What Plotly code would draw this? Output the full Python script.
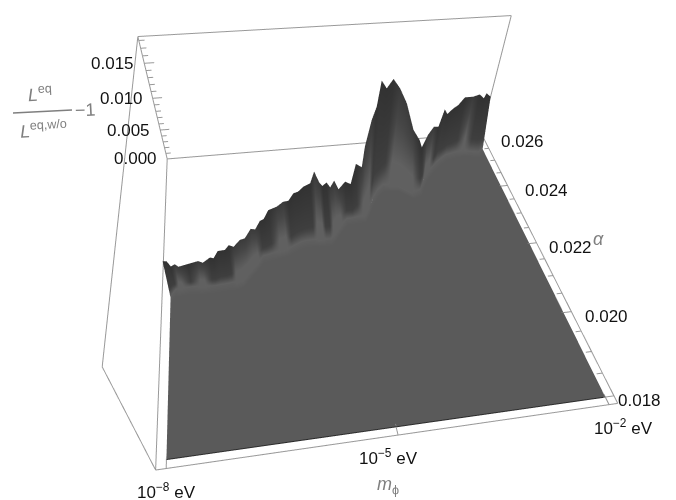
import plotly.graph_objects as go

# values
log_m = [-8.00,-7.95,-7.92,-7.86,-7.82,-7.68,-7.53,-7.47,-7.35,-7.30,-7.22,-7.11,-7.04,-6.97,-6.86,-6.78,-6.67,-6.60,-6.51,-6.45,-6.36,-6.22,-6.11,-6.02,-5.93,-5.85,-5.76,-5.64,-5.57,-5.48,-5.42,-5.35,-5.28,-5.21,-5.12,-5.00,-4.89,-4.81,-4.69,-4.66,-4.57,-4.50,-4.45,-4.32,-4.19,-4.07,-3.92,-3.70,-3.53,-3.45,-3.36,-3.25,-3.13,-3.03,-2.93,-2.79,-2.70,-2.59,-2.42,-2.30,-2.17,-2.13,-2.00]
alpha_edge = [.02180,.02184,.02189,.02193,.02195,.02205,.02214,.02217,.02225,.02228,.02233,.02241,.02245,.02249,.02257,.02262,.02269,.02273,.02279,.02283,.02289,.02298,.02305,.02311,.02317,.02323,.02328,.02336,.02341,.02347,.02351,.02355,.02359,.02364,.02370,.02378,.02385,.02391,.02399,.02401,.02407,.02411,.02415,.02434,.02451,.02448,.02450,.02465,.02476,.02481,.02487,.02495,.02507,.02521,.02533,.02547,.02550,.02554,.02558,.02559,.02568,.02571,.02580]
alpha_foot = [.02156,.02169,.02176,.02176,.02177,.02178,.02176,.02175,.02174,.02174,.02175,.02176,.02177,.02177,.02182,.02197,.02216,.02228,.02245,.02246,.02249,.02254,.02257,.02263,.02269,.02275,.02277,.02277,.02276,.02275,.02275,.02274,.02286,.02300,.02317,.02335,.02336,.02337,.02339,.02342,.02364,.02383,.02395,.02422,.02439,.02436,.02433,.02403,.02411,.02433,.02458,.02478,.02495,.02509,.02521,.02535,.02538,.02542,.02546,.02540,.02536,.02534,.02549]
ridge = [.00493,.00460,.00335,.00344,.00281,.00251,.00228,.00171,.00202,.00163,.00252,.00212,.00264,.00204,.00266,.00255,.00368,.00329,.00434,.00433,.00544,.00540,.00574,.00552,.00636,.00625,.00672,.00677,.00833,.00622,.00542,.00574,.00466,.00548,.00366,.00446,.00361,.00662,.00562,.00880,.01246,.01412,.01744,.01568,.01627,.01504,.01278,.00805,.00584,.00433,.00607,.00703,.00648,.00865,.00738,.00767,.00803,.00903,.00889,.00913,.00811,.00879,.00783]
light_facet = [0,0,0,1,1,0,1,1,0,0,0,0,0,1,1,1,1,1,0,0,0,1,1,0,0,0,0,0,1,1,0,0,1,1,1,0,0,0,1,1,1,0,0,0,0,1,1,1,0,0,1,1,0,0,0,0,0,0,1,0,0,0,0]

alpha_min, alpha_max = 0.018, 0.026
m_box = [-8.13, -1.87]
alpha_box = [0.01784, 0.02616]
z_box = [0.0, 0.0185]

z_ticks = [0.000, 0.005, 0.010, 0.015]
z_labels = ["0.000", "0.005", "0.010", "0.015"]
alpha_ticks = [0.018, 0.020, 0.022, 0.024, 0.026]
alpha_labels = ["0.018", "0.020", "0.022", "0.024", "0.026"]
alpha_label_xshift = [2, 12, 10, 15, 16]
m_ticks = [-8, -5, -2]
m_labels = ["10<sup>−8</sup> eV", "10<sup>−5</sup> eV", "10<sup>−2</sup> eV"]
m_label_xshift = [0, -10, 14]

PAD = 0.004
def grown(b):
    d = (b[1] - b[0]) * PAD
    return [b[0] - d, b[1] + d]

n = len(log_m)
X = [log_m] * 5
Y = [[alpha_min] * n,
     [f - 0.00022 for f in alpha_foot],
     alpha_foot,
     [f + 0.25 * (e - f) for f, e in zip(alpha_foot, alpha_edge)],
     alpha_edge]
Z = [[0.0] * n, [0.0] * n, [0.0] * n, [0.25 * r for r in ridge], ridge]
C = [[0.0] * n, [0.0] * n, [0.14 if l else 0.1 for l in light_facet],
     [0.12 if l else 0.72 for l in light_facet], [0.8 if l else 1.0 for l in light_facet]]

fig = go.Figure()
fig.add_trace(go.Surface(
    x=X, y=Y, z=Z, surfacecolor=C, cmin=-0.05, cmax=1.05, showscale=False,
    colorscale=[[0, "rgb(90,90,90)"], [0.05, "rgb(90,90,90)"], [0.18, "rgb(97,97,97)"], [0.55, "rgb(70,70,70)"], [1, "rgb(48,48,48)"]],
    lighting=dict(ambient=1, diffuse=0, specular=0, roughness=1, fresnel=0),
    contours=dict(x=dict(highlight=False), y=dict(highlight=False), z=dict(highlight=False)),
    hoverinfo="skip",
))

BOX = "#999999"
def seg(xs, ys, zs, color=BOX, width=2):
    fig.add_trace(go.Scatter3d(x=xs, y=ys, z=zs, mode="lines", line=dict(color=color, width=width),
                               showlegend=False, hoverinfo="skip"))

m0, m1 = m_box
a0, a1 = alpha_box
z0, z1 = z_box
seg([m0, m1], [a0, a0], [z0, z0])
seg([m1, m1], [a0, a1], [z0, z0])
seg([m0, m1], [a1, a1], [z0, z0])
seg([m0, m0], [a0, a0], [z0, z1])
seg([m0, m0], [a0, a1], [z1, z1])
seg([m0, m1], [a1, a1], [z1, z1])
seg([m0, m0], [a1, a1], [z0, z1])
seg([m1, m1], [a1, a1], [z0, z1])
seg([m0, m0], [a0, a1], [z0, z0])

for i in range(0, 19):
    t = i * 0.001
    seg([m0, m0 + (0.16 if i % 5 == 0 else 0.09)], [a1, a1], [t, t])
for i in range(0, 17):
    t = 0.018 + i * 0.0005
    seg([m1, m1 - (0.16 if i % 4 == 0 else 0.09)], [t, t], [z0, z0])
for t in m_ticks:
    seg([t, t], [a0, a0 + 0.00022], [z0, z0])

seg([-8, -2], [alpha_min, alpha_min], [0, 0], color="#2b2b2b", width=2)

anns = []
TICK = dict(family="Liberation Sans, Arial, sans-serif", size=17, color="#111111")
GREY = dict(family="Liberation Sans, Arial, sans-serif", size=18, color="#7f7f7f")
for t, s in zip(z_ticks, z_labels):
    anns.append(dict(x=m0, y=a1, z=t, text=s, showarrow=False, xanchor="right", yanchor="middle", xshift=-8, font=TICK))
for t, s, dx in zip(alpha_ticks, alpha_labels, alpha_label_xshift):
    anns.append(dict(x=m1, y=t, z=z0, text=s, showarrow=False, xanchor="left", yanchor="middle", xshift=dx, yshift=-5, font=TICK))
for t, s, dx in zip(m_ticks, m_labels, m_label_xshift):
    anns.append(dict(x=t, y=a0, z=z0, text=s, showarrow=False, xanchor="center", yanchor="top", xshift=dx, yshift=-9, font=TICK))
anns.append(dict(x=-5, y=a0, z=z0, text="<i>m</i><sub>ϕ</sub>", showarrow=False, xanchor="center", yanchor="top", xshift=-10, yshift=-37, font=GREY))
anns.append(dict(x=m1, y=0.0222, z=z0, text="<i>α</i>", showarrow=False, xanchor="left", yanchor="middle", xshift=58, yshift=-2, font=GREY))

ax = dict(visible=False, showspikes=False)
G = 1 + 2 * PAD
fig.update_layout(
    width=676, height=500, margin=dict(l=0, r=0, t=0, b=0), paper_bgcolor="white", showlegend=False,
    scene=dict(
        domain=dict(x=[0, 1], y=[0, 1]),
        xaxis=dict(ax, range=grown(m_box)), yaxis=dict(ax, range=grown(alpha_box)), zaxis=dict(ax, range=grown(z_box)),
        aspectmode="manual", aspectratio=dict(x=G, y=0.9667 * G, z=0.4032 * G),
        dragmode="orbit",
        camera=dict(eye=dict(x=-0.2452, y=-0.9989, z=1.011), center=dict(x=-0.0644, y=-0.0639, z=-0.0721),
                    up=dict(x=0.1021, y=0.7445, z=0.6597)),
        annotations=anns,
    ),
    shapes=[dict(type="line", xref="paper", yref="paper", x0=13/676, x1=72/676, y0=1-113/500, y1=1-110/500,
                 line=dict(color="#7f7f7f", width=1.3))],
    annotations=[
        dict(xref="paper", yref="paper", x=40/676, y=1-94/500, text="<i>L</i><sup>eq</sup>", showarrow=False, xanchor="center", yanchor="middle", textangle=-3, font=GREY),
        dict(xref="paper", yref="paper", x=43/676, y=1-129/500, text="<i>L</i><sup>eq,w/o</sup>", showarrow=False, xanchor="center", yanchor="middle", textangle=-3, font=GREY),
        dict(xref="paper", yref="paper", x=85/676, y=1-110/500, text="−1", showarrow=False, xanchor="center", yanchor="middle", textangle=-3, font=GREY),
    ],
)
fig.write_html("out.html", config=dict(displayModeBar=False), post_script="document.body.style.margin='0';")
